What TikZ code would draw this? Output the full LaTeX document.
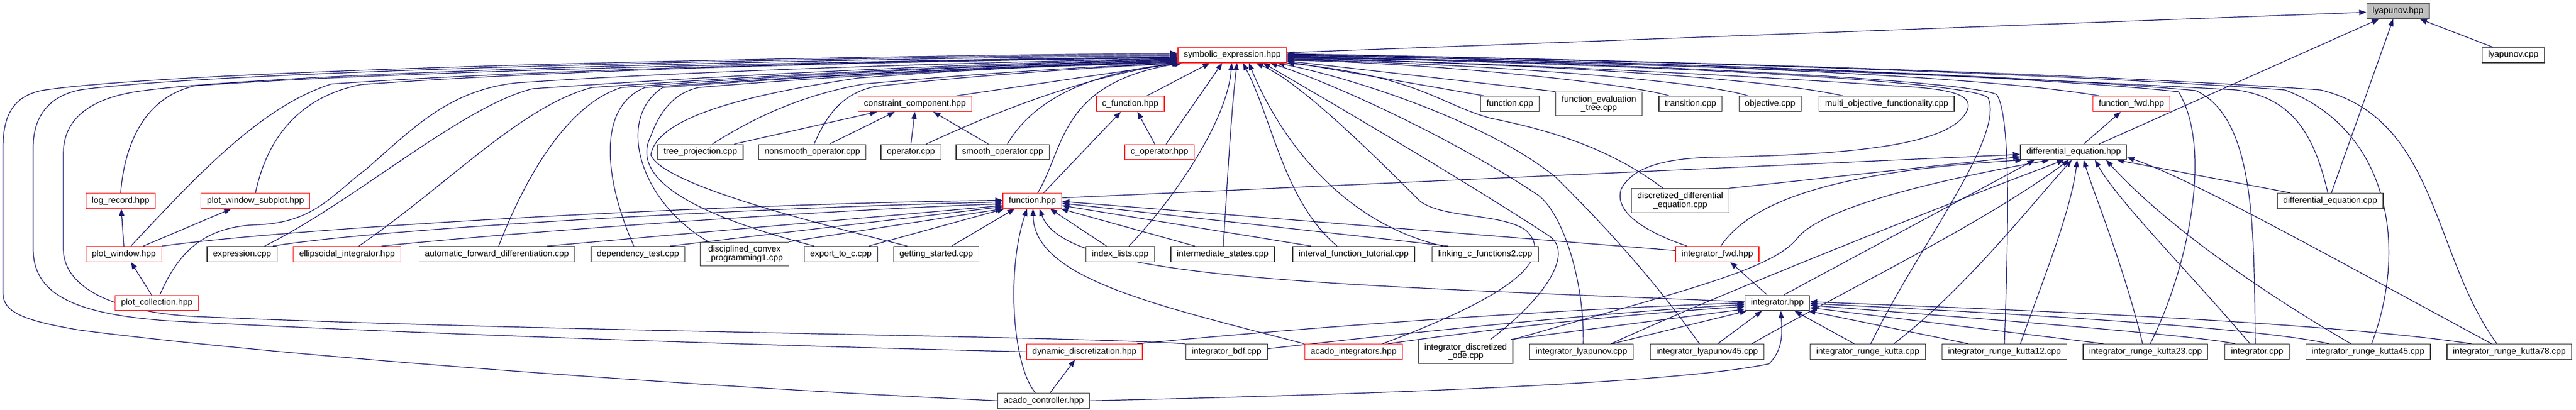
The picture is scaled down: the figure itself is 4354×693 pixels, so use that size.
\documentclass[tikz,border=0pt]{standalone}
\usepackage{fontspec}
\setmainfont{Liberation Sans}
\usetikzlibrary{arrows.meta}
\pgfdeclarelayer{background}
\pgfsetlayers{background,main}
\definecolor{edgeblue}{HTML}{191970}
\definecolor{boxgrey}{HTML}{404040}
\definecolor{boxred}{HTML}{FF2020}
\definecolor{rootfill}{HTML}{BFBFBF}

\begin{document}
\begin{tikzpicture}[x=1pt,y=-1pt,
  dgbox/.style={draw=boxgrey, line width=1.3pt, fill=white, inner xsep=10pt, inner ysep=0pt,
    align=center, font=\fontsize{14.6}{14.5}\selectfont},
  file/.style={dgbox, minimum height=25.7pt, text height=10.6pt, text depth=3.2pt},
  redfile/.style={file, draw=boxred},
  rootfile/.style={file, fill=rootfill},
  file2/.style={dgbox, minimum height=40.3pt},
  dep/.style={edgeblue, line width=1.2pt, -{Triangle[length=12pt,width=9pt]}}]
\useasboundingbox (0,0) rectangle (4354,693);

% Koren a prvni rada
\node[rootfile] (lyap) at (4053,18.7) {lyapunov.hpp};
\node[redfile] (symexpr) at (2082.8,93) {symbolic\_expression.hpp};
\node[file] (lyapcpp) at (4248,93) {lyapunov.cpp};

% Rada 2
\node[redfile] (constr) at (1546.4,175.5) {constraint\_component.hpp};
\node[redfile] (cfun) at (1910.4,175.5) {c\_function.hpp};
\node[file] (funcpp) at (2552,175.5) {function.cpp};
\node[file2] (funeval) at (2702.6,175.5) {function\_evaluation\\\_tree.cpp};
\node[file] (transcpp) at (2857.3,175.5) {transition.cpp};
\node[file] (objcpp) at (2991.8,175.5) {objective.cpp};
\node[file] (multicpp) at (3188.9,175.5) {multi\_objective\_functionality.cpp};
\node[redfile] (funfwd) at (3602.6,175.5) {function\_fwd.hpp};

% Rada 3
\node[file] (treecpp) at (1183.9,257) {tree\_projection.cpp};
\node[file] (nonsmooth) at (1373,257) {nonsmooth\_operator.cpp};
\node[file] (opcpp) at (1539.6,257) {operator.cpp};
\node[file] (smooth) at (1694.6,257) {smooth\_operator.cpp};
\node[redfile] (cop) at (1959.8,257) {c\_operator.hpp};
\node[file] (diffeq) at (3504.8,257) {differential\_equation.hpp};

% Rada 4
\node[redfile] (logrec) at (203.9,339.5) {log\_record.hpp};
\node[redfile] (pwsub) at (431.8,339.5) {plot\_window\_subplot.hpp};
\node[redfile] (fun) at (1744.9,339.5) {function.hpp};
\node[file2] (discdiff) at (2839.9,339) {discretized\_differential\\\_equation.cpp};
\node[file] (diffeqcpp) at (3938.5,339.5) {differential\_equation.cpp};

% Rada 5
\node[redfile] (pwin) at (209.3,429.4) {plot\_window.hpp};
\node[file] (exprcpp) at (409.2,429.4) {expression.cpp};
\node[redfile] (ellint) at (586.6,429.4) {ellipsoidal\_integrator.hpp};
\node[file] (autodiff) at (839.8,429.4) {automatic\_forward\_differentiation.cpp};
\node[file] (deptest) at (1078.3,429.4) {dependency\_test.cpp};
\node[file2] (dcp) at (1258.4,429.4) {disciplined\_convex\\\_programming1.cpp};
\node[file] (exportc) at (1421.3,429.4) {export\_to\_c.cpp};
\node[file] (getstart) at (1582.4,429.4) {getting\_started.cpp};
\node[file] (idxlist) at (1893.3,429.4) {index\_lists.cpp};
\node[file] (interst) at (2066.6,429.4) {intermediate\_states.cpp};
\node[file] (ivtut) at (2288,429.4) {interval\_function\_tutorial.cpp};
\node[file] (linkc) at (2510.3,429.4) {linking\_c\_functions2.cpp};
\node[redfile] (intfwd) at (2902.5,429.4) {integrator\_fwd.hpp};

% Rada 6
\node[redfile] (plotcol) at (265.1,512) {plot\_collection.hpp};
\node[file] (integ) at (3004,512) {integrator.hpp};

% Rada 7
\node[redfile] (dyndisc) at (1833,594.5) {dynamic\_discretization.hpp};
\node[file] (ibdf) at (2073.1,594.5) {integrator\_bdf.cpp};
\node[redfile] (acadoint) at (2287.8,594.5) {acado\_integrators.hpp};
\node[file2] (idode) at (2477.3,594.5) {integrator\_discretized\\\_ode.cpp};
\node[file] (ilyap) at (2673,594.5) {integrator\_lyapunov.cpp};
\node[file] (ilyap45) at (2885.3,594.5) {integrator\_lyapunov45.cpp};
\node[file] (irk) at (3157,594.5) {integrator\_runge\_kutta.cpp};
\node[file] (irk12) at (3387.9,594.5) {integrator\_runge\_kutta12.cpp};
\node[file] (irk23) at (3626.4,594.5) {integrator\_runge\_kutta23.cpp};
\node[file] (intcpp) at (3815,594.5) {integrator.cpp};
\node[file] (irk45) at (4002.5,594.5) {integrator\_runge\_kutta45.cpp};
\node[file] (irk78) at (4241.3,594.5) {integrator\_runge\_kutta78.cpp};

% Rada 8
\node[file] (acadoctl) at (1764,677.3) {acado\_controller.hpp};

\begin{pgfonlayer}{background}
% Hrany do lyapunov.hpp
\draw[dep] ([yshift=4pt]symexpr.east) -- ([yshift=-2pt]lyap.west);
\draw[dep] ([xshift=-35pt]lyapcpp.north) -- ([xshift=37pt]lyap.south);
\draw[dep] ([xshift=43pt]diffeq.north) -- ([xshift=-32pt]lyap.south);
\draw[dep] ([xshift=2pt]diffeqcpp.north) -- ([xshift=-8pt]lyap.south);

% Mensi hlavicky
\draw[dep] ([xshift=17pt]diffeq.north) -- ([xshift=-18pt]funfwd.south);
\draw[dep] ([xshift=57pt]treecpp.north) -- ([xshift=-64pt]constr.south);
\draw[dep] ([xshift=29pt]nonsmooth.north) -- ([xshift=-34pt]constr.south);
\draw[dep] (opcpp.north) -- (constr.south);
\draw[dep] ([xshift=-24pt]smooth.north) -- ([xshift=31pt]constr.south);
\draw[dep] ([xshift=19pt]fun.north) -- ([xshift=-16pt]cfun.south);
\draw[dep] ([xshift=-8pt]cop.north) -- ([xshift=12pt]cfun.south);
\draw[dep] (pwin.north) -- ([xshift=1pt]logrec.south);
\draw[dep] ([xshift=33pt]pwin.north) -- ([xshift=-41pt]pwsub.south);
\draw[dep] ([xshift=-9pt]plotcol.north) -- ([xshift=12pt]pwin.south);
\draw[dep] ([xshift=11pt]acadoctl.north) -- ([xshift=-16pt]dyndisc.south);
\draw[dep] ([xshift=-17pt]integ.north) -- ([xshift=22pt]intfwd.south);

% Hrany do function.hpp
\draw[dep] (pwin.north east) .. controls (500,385) and (1200,345) .. ([yshift=1pt]fun.west);
\draw[dep] ([xshift=52pt]exprcpp.north) .. controls (650,385) and (1300,350) .. ([yshift=-2pt]fun.west);
\draw[dep] ([xshift=58pt]ellint.north) .. controls (900,390) and (1400,355) .. ([yshift=-5pt]fun.west);
\draw[dep] ([xshift=85pt]autodiff.north) -- ([yshift=-8pt]fun.west);
\draw[dep] ([xshift=54pt]deptest.north) -- ([yshift=-10pt]fun.west);
\draw[dep] (dcp.north east) -- (fun.south west);
\draw[dep] ([xshift=47pt]exportc.north) -- ([xshift=3pt]fun.south west);
\draw[dep] ([xshift=26pt]getstart.north) -- ([xshift=-30pt]fun.south);
\draw[dep] ([xshift=-23pt]idxlist.north) -- ([xshift=30pt]fun.south);
\draw[dep] ([xshift=-47pt]interst.north) -- ([xshift=-2pt]fun.south east);
\draw[dep] ([xshift=-72pt]ivtut.north) -- ([yshift=-8pt]fun.east);
\draw[dep] ([xshift=-62pt]linkc.north) -- ([yshift=-4pt]fun.east);
\draw[dep] ([yshift=6pt]intfwd.west) -- ([yshift=-1pt]fun.east);
\draw[dep] ([xshift=-14pt]acadoctl.north) .. controls (1712,620) and (1700,460) .. ([xshift=-9pt]fun.south);
\draw[dep] ([yshift=2pt]integ.west) .. controls (2200,480) and (1800,470) .. ([xshift=12pt]fun.south);
\draw[dep] (acadoint.north west) .. controls (1950,515) and (1748,470) .. ([xshift=1pt]fun.south);

% Hrany do differential_equation.hpp
\draw[dep] ([yshift=5pt]fun.east) -- ([yshift=-4pt]diffeq.west);
\draw[dep] (discdiff.north east) -- ([yshift=-8pt]diffeq.west);
\draw[dep] ([xshift=6pt]intfwd.north) .. controls (2960,340) and (3100,290) .. ([xshift=4pt]diffeq.south west);
\draw[dep] ([xshift=11pt]integ.north) -- ([xshift=-66pt]diffeq.south);
\draw[dep] (idode.north east) .. controls (2850,490) and (3000,455) .. (3040,400) .. controls (3090,345) and (3300,300) .. ([xshift=-41pt]diffeq.south);
\draw[dep] ([xshift=50pt]ilyap.north) .. controls (2900,500) and (3250,360) .. ([xshift=-16pt]diffeq.south);
\draw[dep] ([xshift=76pt]ilyap45.north) .. controls (3100,500) and (3350,380) .. ([xshift=-8pt]diffeq.south);
\draw[dep] ([xshift=44pt]irk.north) .. controls (3320,490) and (3430,350) .. ([xshift=-3pt]diffeq.south);
\draw[dep] ([xshift=27pt]irk12.north) .. controls (3450,480) and (3500,360) .. ([xshift=6pt]diffeq.south);
\draw[dep] ([xshift=-5pt]irk23.north) .. controls (3590,450) and (3540,330) .. ([xshift=17pt]diffeq.south);
\draw[dep] ([xshift=-12pt]intcpp.north) .. controls (3700,460) and (3580,340) .. ([xshift=36pt]diffeq.south);
\draw[dep] ([xshift=-29pt]irk45.north) .. controls (3800,480) and (3650,370) .. ([xshift=55pt]diffeq.south);
\draw[dep] ([xshift=-30pt]irk78.north) .. controls (3950,440) and (3700,300) .. ([yshift=-9pt]diffeq.east);
\draw[dep] ([xshift=-67pt]diffeqcpp.north) -- ([xshift=73pt]diffeq.south);

% Hrany do integrator.hpp
\draw[dep] ([xshift=89pt]dyndisc.north) .. controls (2300,545) and (2700,520) .. (integ.west);
\draw[dep] ([yshift=5pt]ibdf.east) .. controls (2400,560) and (2750,525) .. ([yshift=-3pt]integ.west);
\draw[dep] ([xshift=58pt]acadoint.north) .. controls (2600,545) and (2800,528) .. ([yshift=-6pt]integ.west);
\draw[dep] ([xshift=-4pt]idode.north east) -- ([yshift=3pt]integ.south west);
\draw[dep] ([xshift=52pt]ilyap.north) -- ([xshift=4pt]integ.south west);
\draw[dep] ([xshift=18pt]ilyap45.north) -- ([xshift=-26pt]integ.south);
\draw[dep] ([xshift=-23pt]irk.north) -- ([xshift=29pt]integ.south);
\draw[dep] ([xshift=-61pt]irk12.north) -- ([xshift=-3pt]integ.south east);
\draw[dep] ([xshift=-71pt]irk23.north) -- ([yshift=-8pt]integ.east);
\draw[dep] ([xshift=-37pt]intcpp.north) .. controls (3700,565) and (3300,535) .. ([yshift=-4pt]integ.east);
\draw[dep] ([xshift=-66pt]irk45.north) .. controls (3800,550) and (3300,525) .. ([yshift=-1pt]integ.east);
\draw[dep] ([xshift=-64pt]irk78.north) .. controls (3900,540) and (3300,520) .. ([yshift=2pt]integ.east);
\draw[dep] (acadoctl.east) .. controls (2400,665) and (2850,645) .. (2990,615) .. controls (3015,590) and (3012,560) .. ([xshift=6pt]integ.south);

% Hrany do symbolic_expression.hpp - leva strana
\draw[dep] (acadoctl.west) .. controls (1200,655) and (500,605) .. (135,558) .. controls (40,542) and (5,528) .. (5,495) -- (5,250) .. controls (5,185) and (30,162) .. (70,153) .. controls (250,125) and (1000,100) .. ([yshift=3pt]symexpr.west);
\draw[dep] (dyndisc.west) .. controls (1300,585) and (600,560) .. (280,542) .. controls (120,530) and (56,495) .. (56,420) -- (56,250) .. controls (56,185) and (95,160) .. (135,152) .. controls (300,128) and (1000,102) .. ([yshift=1pt]symexpr.west);
\draw[dep] (ibdf.north west) .. controls (1800,568) and (900,560) .. (330,535) .. controls (200,528) and (107,490) .. (107,420) -- (107,260) .. controls (107,190) and (170,162) .. (244,153) .. controls (400,132) and (1000,104) .. ([yshift=-1pt]symexpr.west);
\draw[dep] (logrec.north) .. controls (210,250) and (240,165) .. (330,145) .. controls (700,118) and (1500,102) .. ([yshift=-3pt]symexpr.west);
\draw[dep] ([xshift=12pt]pwin.north) .. controls (330,300) and (440,180) .. (560,142) .. controls (900,118) and (1500,102) .. ([yshift=-4pt]symexpr.west);
\draw[dep] (pwsub.north) .. controls (450,240) and (500,165) .. (610,143) .. controls (950,118) and (1500,103) .. ([yshift=-5pt]symexpr.west);
\draw[dep] ([xshift=5pt]plotcol.north) .. controls (300,430) and (340,385) .. (430,380) .. controls (530,378) and (560,330) .. (620,285) .. controls (700,215) and (760,152) .. (874,140) .. controls (1200,118) and (1700,104) .. ([yshift=-6pt]symexpr.west);
\draw[dep] ([xshift=38pt]exprcpp.north) .. controls (600,340) and (780,180) .. (900,150) .. controls (1300,122) and (1700,106) .. ([yshift=-7pt]symexpr.west);
\draw[dep] ([xshift=20pt]ellint.north) .. controls (760,310) and (880,180) .. (1000,148) .. controls (1400,120) and (1750,107) .. ([yshift=-8pt]symexpr.west);
\draw[dep] ([xshift=3pt]autodiff.north) .. controls (880,320) and (950,180) .. (1050,148) .. controls (1400,122) and (1750,108) .. ([yshift=-9pt]symexpr.west);
\draw[dep] ([xshift=-7pt]deptest.north) .. controls (1020,300) and (1010,180) .. (1090,148) .. controls (1400,125) and (1750,110) .. ([yshift=-10pt]symexpr.west);
\draw[dep] ([xshift=-61pt]dcp.north) .. controls (1080,340) and (1040,200) .. (1120,148) .. controls (1420,125) and (1760,110) .. ([yshift=-11pt]symexpr.west);
\draw[dep] ([xshift=-45pt]exportc.north) .. controls (1200,370) and (1060,310) .. (1100,230) .. controls (1120,175) and (1150,155) .. (1180,148) .. controls (1450,125) and (1780,110) .. ([yshift=-12pt]symexpr.west);
\draw[dep] ([xshift=-49pt]getstart.north) .. controls (1350,370) and (1120,310) .. (1100,262) .. controls (1110,200) and (1250,162) .. (1450,132) .. controls (1700,112) and (1900,108) .. ([xshift=2pt]symexpr.south west);
\draw[dep] ([xshift=20pt]treecpp.north) .. controls (1280,195) and (1360,160) .. (1460,142) .. controls (1700,120) and (1900,110) .. ([xshift=3pt]symexpr.south west);
\draw[dep] ([xshift=3pt]nonsmooth.north) .. controls (1395,200) and (1420,158) .. (1480,146) .. controls (1700,122) and (1900,112) .. ([xshift=4pt]symexpr.south west);
\draw[dep] ([xshift=70pt]constr.north) -- ([xshift=3pt]symexpr.south west);
\draw[dep] ([xshift=26pt]opcpp.north) .. controls (1690,185) and (1850,125) .. ([xshift=5pt]symexpr.south west);
\draw[dep] ([xshift=8pt]smooth.north) .. controls (1740,180) and (1820,125) .. ([xshift=6pt]symexpr.south west);
\draw[dep] ([xshift=9pt]fun.north) .. controls (1800,250) and (1790,140) .. ([xshift=8pt]symexpr.south west);

% Hrany do symbolic_expression.hpp - zespodu
\draw[dep] ([xshift=28pt]cfun.north) -- ([xshift=-38pt]symexpr.south);
\draw[dep] ([xshift=11pt]cop.north) -- ([xshift=-17pt]symexpr.south);
\draw[dep] ([xshift=15pt]idxlist.north) .. controls (1990,330) and (2075,200) .. ([xshift=-1pt]symexpr.south);
\draw[dep] ([xshift=1pt]interst.north) .. controls (2075,300) and (2080,200) .. ([xshift=8pt]symexpr.south);
\draw[dep] ([xshift=-28pt]ivtut.north) .. controls (2170,340) and (2150,200) .. ([xshift=18pt]symexpr.south);
\draw[dep] ([xshift=-71pt]linkc.north) .. controls (2280,380) and (2170,250) .. ([xshift=28pt]symexpr.south);
\draw[dep] ([xshift=49pt]acadoint.north) .. controls (2500,520) and (2640,450) .. (2580,390) .. controls (2540,360) and (2440,370) .. (2400,340) .. controls (2330,270) and (2200,140) .. ([xshift=40pt]symexpr.south);
\draw[dep] ([xshift=42pt]idode.north) .. controls (2610,505) and (2660,430) .. (2620,400) .. controls (2560,360) and (2400,260) .. ([xshift=52pt]symexpr.south);
\draw[dep] ([xshift=3pt]ilyap.north) .. controls (2678,470) and (2640,360) .. (2600,330) .. controls (2450,230) and (2250,140) .. ([xshift=64pt]symexpr.south);
\draw[dep] ([xshift=-13pt]ilyap45.north) .. controls (2780,450) and (2680,350) .. (2630,300) .. controls (2520,210) and (2300,135) .. ([xshift=76pt]symexpr.south);
\draw[dep] ([xshift=-29pt]discdiff.north) .. controls (2720,250) and (2620,220) .. (2520,200) .. controls (2430,175) and (2400,130) .. (symexpr.south east);

% Hrany do symbolic_expression.hpp - prava strana
\draw[dep] ([xshift=-43pt]funcpp.north) -- ([yshift=-11pt]symexpr.east);
\draw[dep] (funeval.north west) -- ([yshift=-10pt]symexpr.east);
\draw[dep] ([xshift=-36pt]transcpp.north) .. controls (2750,140) and (2400,105) .. ([yshift=-9pt]symexpr.east);
\draw[dep] ([xshift=-37pt]objcpp.north) .. controls (2850,130) and (2400,104) .. ([yshift=-8pt]symexpr.east);
\draw[dep] ([xshift=-74pt]multicpp.north) .. controls (2950,125) and (2450,103) .. ([yshift=-7pt]symexpr.east);
\draw[dep] ([xshift=-54pt]funfwd.north) .. controls (3300,120) and (2600,100) .. ([yshift=-6pt]symexpr.east);
\draw[dep] ([xshift=-51pt]intfwd.north) .. controls (2760,385) and (2730,350) .. (2740,320) .. controls (2760,280) and (2820,268) .. (2890,266) .. controls (3100,262) and (3280,250) .. (3320,195) .. controls (3345,160) and (3300,150) .. (3200,145) .. controls (2800,118) and (2400,103) .. ([yshift=-5pt]symexpr.east);
\draw[dep] ([xshift=-4pt]diffeqcpp.north) .. controls (3910,220) and (3870,165) .. (3780,152) .. controls (3200,120) and (2600,102) .. ([yshift=-4pt]symexpr.east);
\draw[dep] ([xshift=5pt]irk.north) .. controls (3240,420) and (3390,230) .. (3360,165) .. controls (3330,140) and (2900,112) .. ([yshift=-3pt]symexpr.east);
\draw[dep] (irk12.north) .. controls (3394,400) and (3400,200) .. (3375,160) .. controls (3340,140) and (2900,110) .. ([yshift=-2pt]symexpr.east);
\draw[dep] ([xshift=8pt]irk23.north) .. controls (3700,450) and (3740,250) .. (3682,155) .. controls (3400,125) and (2700,102) .. ([yshift=-1pt]symexpr.east);
\draw[dep] ([xshift=-3pt]intcpp.north) .. controls (3809,400) and (3815,200) .. (3711,153) .. controls (3400,125) and (2700,102) .. (symexpr.east);
\draw[dep] ([xshift=6pt]irk45.north) .. controls (4070,420) and (4040,220) .. (3862,152) .. controls (3450,122) and (2700,100) .. ([yshift=1pt]symexpr.east);
\draw[dep] ([xshift=-21pt]irk78.north) .. controls (4110,430) and (4120,200) .. (3922,152) .. controls (3500,122) and (2700,100) .. ([yshift=2pt]symexpr.east);
\end{pgfonlayer}
\end{tikzpicture}
\end{document}
